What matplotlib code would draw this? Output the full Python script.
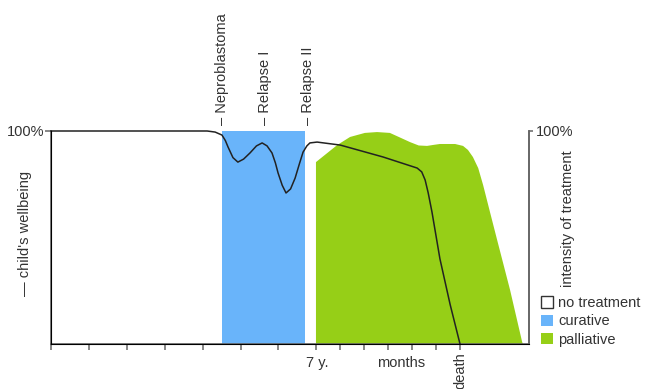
import matplotlib
matplotlib.use('Agg')
import matplotlib.pyplot as plt
from matplotlib.patches import Patch

plt.rcParams['font.family'] = ['Liberation Sans', 'DejaVu Sans']

# x in "year" units (one tick per year up to 7 y., then month ticks)
year_ticks = [0, 1, 2, 3, 4, 5, 6, 7]
month_ticks = [7.63, 8.26, 8.89, 9.53, 10.16, 10.79]
x_max = 12.61

# child's wellbeing (%)
wb_x = [0, 4.12, 4.33, 4.51, 4.60, 4.67, 4.80, 4.93, 5.08, 5.25, 5.42, 5.57,
        5.70, 5.83, 5.92, 5.99, 6.10, 6.20, 6.32, 6.44, 6.56, 6.65, 6.75, 6.83,
        7.02, 7.63, 8.76, 9.66, 9.78, 9.87, 9.95, 10.05, 10.26, 10.53, 10.79]
wb_y = [100, 100, 99.5, 98.1, 95.5, 92.5, 87.5, 85.4, 86.8, 89.7, 93.0, 94.4,
        93.0, 89.7, 85.0, 80.3, 74.5, 70.9, 72.8, 77.9, 85.0, 90.1, 93.0, 94.4,
        94.8, 93.4, 87.8, 82.6, 80.8, 77.0, 71.0, 62.0, 40.0, 18.5, 0]

# curative treatment period
cur_start, cur_end = 4.51, 6.70

# palliative treatment intensity (%)
pal_x = [6.99, 6.99, 7.55, 7.89, 8.28, 8.60, 8.94, 9.20, 9.47, 9.70, 9.92, 10.1,
         10.26, 10.66, 10.87, 11.00, 11.13, 11.27, 11.40, 11.58, 11.77, 12.11,
         12.43, 12.45]
pal_y = [0, 85.4, 93.4, 97.2, 99.1, 99.5, 99.1, 97.0, 94.8, 93.2, 93.0, 93.5,
         93.9, 93.9, 93.0, 91.1, 87.8, 82.6, 74.6, 62.0, 48.8, 25.4, 0.9, 0]

# event markers above the chart
events = ['Neproblastoma', 'Relapse I', 'Relapse II']
event_x = [4.51, 5.65, 6.78]

blue = '#69b4fa'
green = '#96cf17'
txt = '#333333'
axc = '#666666'

fig = plt.figure(figsize=(6.46, 3.89), dpi=100)
ax = fig.add_axes([51/646, 1 - 344/389, (529 - 51)/646, (344 - 131)/389])

ax.axvspan(cur_start, cur_end, color=blue, lw=0)
ax.fill(pal_x, pal_y, color=green, lw=0)
ax.plot(wb_x, wb_y, color='#222222', lw=1.1, clip_on=False, zorder=5)

ax.set_xlim(0, x_max)
ax.set_ylim(0, 100)

ax.spines['top'].set_visible(False)
for s in ['left', 'bottom', 'right']:
    ax.spines[s].set_color(axc)
    ax.spines[s].set_linewidth(1.2)

ax.set_xticks(year_ticks + month_ticks)
ax.set_xticklabels([])
ax.tick_params(axis='x', direction='out', length=4, width=1.1, color=axc)
ax.set_yticks([100])
ax.set_yticklabels(['100%'], fontsize=10.5, color=txt)
ax.tick_params(axis='y', direction='out', length=4, width=1.1, color=axc, pad=1)

ax2 = ax.twinx()
ax2.set_ylim(0, 100)
ax2.set_yticks([100])
ax2.set_yticklabels(['100%'], fontsize=10.5, color=txt)
ax2.tick_params(axis='y', direction='out', length=3, width=1.1, color=axc, pad=2)
ax2.spines['top'].set_visible(False)
ax2.spines['right'].set_color(axc)
ax2.spines['right'].set_linewidth(1.2)

for name, x in zip(events, event_x):
    ax.text(x, 103, '– ' + name, rotation=90, ha='center', va='bottom',
            fontsize=10.5, color=txt, clip_on=False)

ax.text(7.02, -9, '7 y.', ha='center', va='center', fontsize=10.5, color=txt)
ax.text(9.23, -9, 'months', ha='center', va='center', fontsize=10.5, color=txt)
ax.text(10.79, -3.8, 'death', rotation=90, ha='center', va='top',
        fontsize=10.5, color=txt)

fig.text(25/646, 1 - 233/389, "— child's wellbeing", rotation=90,
         ha='center', va='center', fontsize=10.5, color=txt)
fig.text(568/646, 1 - 219/389, 'intensity of treatment', rotation=90,
         ha='center', va='center', fontsize=10.5, color=txt)

handles = [Patch(facecolor='white', edgecolor='#333333', lw=1),
           Patch(facecolor=blue, lw=0),
           Patch(facecolor=green, lw=0)]
fig.legend(handles, ['no treatment', 'curative', 'palliative'],
           loc='upper left', bbox_to_anchor=(541/646, 1 - 296/389),
           bbox_transform=fig.transFigure, frameon=False, fontsize=10.5,
           handlelength=0.8, handleheight=0.8, handletextpad=0.4,
           labelspacing=0.3, borderpad=0, borderaxespad=0,
           labelcolor=txt)

fig.savefig('out.png', dpi=100)
